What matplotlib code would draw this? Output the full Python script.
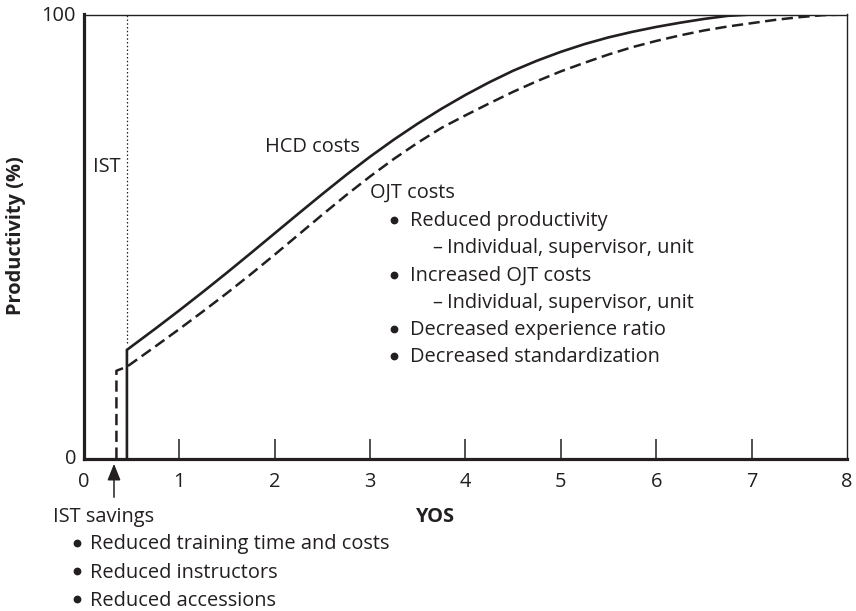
import matplotlib
matplotlib.use("Agg")
import matplotlib.pyplot as plt
from matplotlib.lines import Line2D

plt.rcParams['font.family'] = ['Open Sans', 'DejaVu Sans']

INK = '#231f20'

# HCD costs (solid) curve
hcd_x = [0.45, 0.45, 0.75, 1.0, 1.25, 1.5, 1.75, 2.0, 2.25, 2.5, 2.75, 3.0, 3.25, 3.5, 3.75,
         4.0, 4.25, 4.5, 4.75, 5.0, 5.25, 5.5, 5.75, 6.0, 6.25, 6.5, 6.75, 7.0, 8.0]
hcd_y = [0.0, 24.5, 29.3, 33.4, 37.6, 41.9, 46.3, 50.75, 55.2, 59.6, 63.9, 68.0, 71.85, 75.45, 78.8,
         81.9, 84.75, 87.35, 89.6, 91.6, 93.35, 94.85, 96.1, 97.2, 98.15, 99.0, 99.7, 100.0, 100.0]

# OJT costs (dashed) curve
ojt_x = [0.34, 0.34, 0.45, 0.75, 1.0, 1.25, 1.5, 1.75, 2.0, 2.25, 2.5, 2.75, 3.0, 3.25, 3.5, 3.75,
         4.0, 4.25, 4.5, 4.75, 5.0, 5.25, 5.5, 5.75, 6.0, 6.25, 6.5, 6.75, 7.0, 7.25, 7.5, 7.75, 8.0]
ojt_y = [0.0, 19.8, 20.7, 25.3, 29.2, 33.2, 37.3, 41.55, 45.95, 50.45, 54.95, 59.35, 63.55, 67.5, 71.15, 74.5,
         77.3, 80.0, 82.6, 85.0, 87.2, 89.15, 91.0, 92.65, 94.05, 95.3, 96.4, 97.3, 98.05, 98.8, 99.4, 99.85, 100.0]

ist_x = 0.45
x_ticks = [1, 2, 3, 4, 5, 6, 7]
x_labels = ['0', '1', '2', '3', '4', '5', '6', '7', '8']

W, H = 856, 611
FS = 14.4
fig = plt.figure(figsize=(W / 100, H / 100), dpi=100)
ax = fig.add_axes([84 / W, 1 - 458.7 / H, (847 - 84) / W, (458.7 - 14.5) / H])
ax.set_xlim(0, 8)
ax.set_ylim(0, 100)

ax.plot(hcd_x, hcd_y, color=INK, lw=1.9, solid_joinstyle='miter', zorder=3)
ax.plot(ojt_x, ojt_y, color=INK, lw=1.8, linestyle=(0, (4.5, 2.2)), zorder=3)
ax.plot([ist_x, ist_x], [26, 100], color=INK, lw=0.9, linestyle=(0, (1.2, 1.8)), zorder=2)

for s in ['left', 'bottom']:
    ax.spines[s].set_linewidth(2.3)
    ax.spines[s].set_color(INK)
for s in ['top', 'right']:
    ax.spines[s].set_linewidth(1.0)
    ax.spines[s].set_color(INK)

ax.set_xticks(x_ticks)
ax.set_xticklabels([])
ax.tick_params(axis='x', direction='in', length=14.5, width=1.1, color=INK)
ax.set_yticks([])

def ftext(x, y, s, **kw):
    kw.setdefault('fontsize', FS)
    kw.setdefault('color', INK)
    kw.setdefault('va', 'center')
    fig.text(x / W, 1 - y / H, s, **kw)

def bullet(x, y):
    fig.add_artist(Line2D([x / W], [1 - (y - 1.5) / H], transform=fig.transFigure,
                          marker='o', markersize=4.6, color=INK, linestyle='none'))

# axis value labels
for i, lab in enumerate(x_labels):
    xp = 84 + i * (847 - 84) / 8
    ftext(xp, 482, lab, ha='center')
ftext(76, 459, '0', ha='right')
ftext(76, 16, '100', ha='right')

ftext(16, 236, 'Productivity (%)', ha='center', rotation=90, fontweight='bold')
ftext(436, 517, 'YOS', ha='center', fontweight='bold')

# annotations in plot
ftext(121, 167, 'IST', ha='right')
ftext(265, 147, 'HCD costs', ha='left')
ftext(370, 193, 'OJT costs', ha='left')

items = [
    (False, 'Reduced productivity', 221),
    (True, 'Individual, supervisor, unit', 248),
    (False, 'Increased OJT costs', 276),
    (True, 'Individual, supervisor, unit', 303),
    (False, 'Decreased experience ratio', 330),
    (False, 'Decreased standardization', 357),
]
for sub, t, y in items:
    if sub:
        ftext(437, y, '–', ha='center')
        ftext(447, y, t, ha='left')
    else:
        bullet(394, y)
        ftext(410, y, t, ha='left')

# IST savings
ftext(53, 517, 'IST savings', ha='left')
for t, y in [('Reduced training time and costs', 544),
             ('Reduced instructors', 572.5),
             ('Reduced accessions', 600.5)]:
    bullet(77, y)
    ftext(90, y, t, ha='left')

fig.patches.append(matplotlib.patches.FancyArrowPatch(
    (114 / W, 1 - 500 / H), (114 / W, 1 - 461 / H), transform=fig.transFigure,
    arrowstyle='-|>,head_length=10,head_width=4', mutation_scale=1,
    color=INK, lw=1.1))

fig.savefig('out.png', dpi=100)
